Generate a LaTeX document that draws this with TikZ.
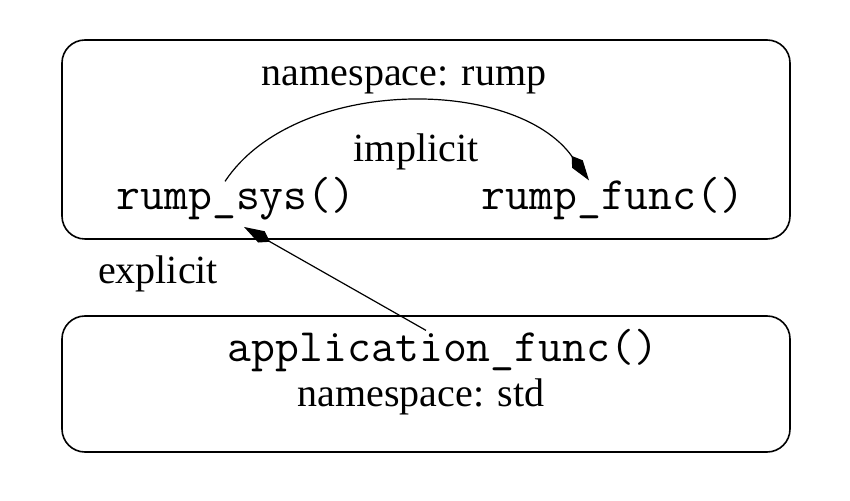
\documentclass[tikz,border=0pt]{standalone}
\usepackage{fontspec}
\setmainfont{Liberation Serif}
\usetikzlibrary{arrows.meta,calc}

\begin{document}
\begin{tikzpicture}[x=0.5pt,y=-0.5pt,
  box/.style={draw, line width=0.8pt, rounded corners=11.5pt},
  lbl/.style={anchor=base, inner sep=0pt, font=\fontsize{20}{24}\selectfont},
  fn/.style={anchor=base, inner sep=0pt, font=\fontsize{23.2}{28}\selectfont\ttfamily},
  call/.style={line width=0.6pt, -{Kite[length=15pt,width=6.5pt,inset=5pt]}}]
  \useasboundingbox (0,0) rectangle (850,501);
  \draw[box] (62,40) rectangle (790,239);
  \draw[box] (62,316) rectangle (790,452);

  \node[lbl] (nsrump) at (404,86) {namespace: rump};
  \node[lbl] (implicit) at (416,162) {implicit};
  \node[fn] (sys) at (236,210) {rump\_sys()};
  \node[fn] (func) at (613,210) {rump\_func()};
  \node[lbl] (explicit) at (158,284) {explicit};
  \node[fn] (app) at (443,362) {application\_func()};
  \node[lbl] (nsstd) at (421,407) {namespace: std};

  \draw[call] ($(sys.north)+(-11,4)$) .. controls (295,76) and (515,76) .. ($(func.north)+(-24,3)$);
  \draw[call] ($(app.north)+(-17,1)$) -- ($(sys.south)+(8,6)$);
\end{tikzpicture}
\end{document}
